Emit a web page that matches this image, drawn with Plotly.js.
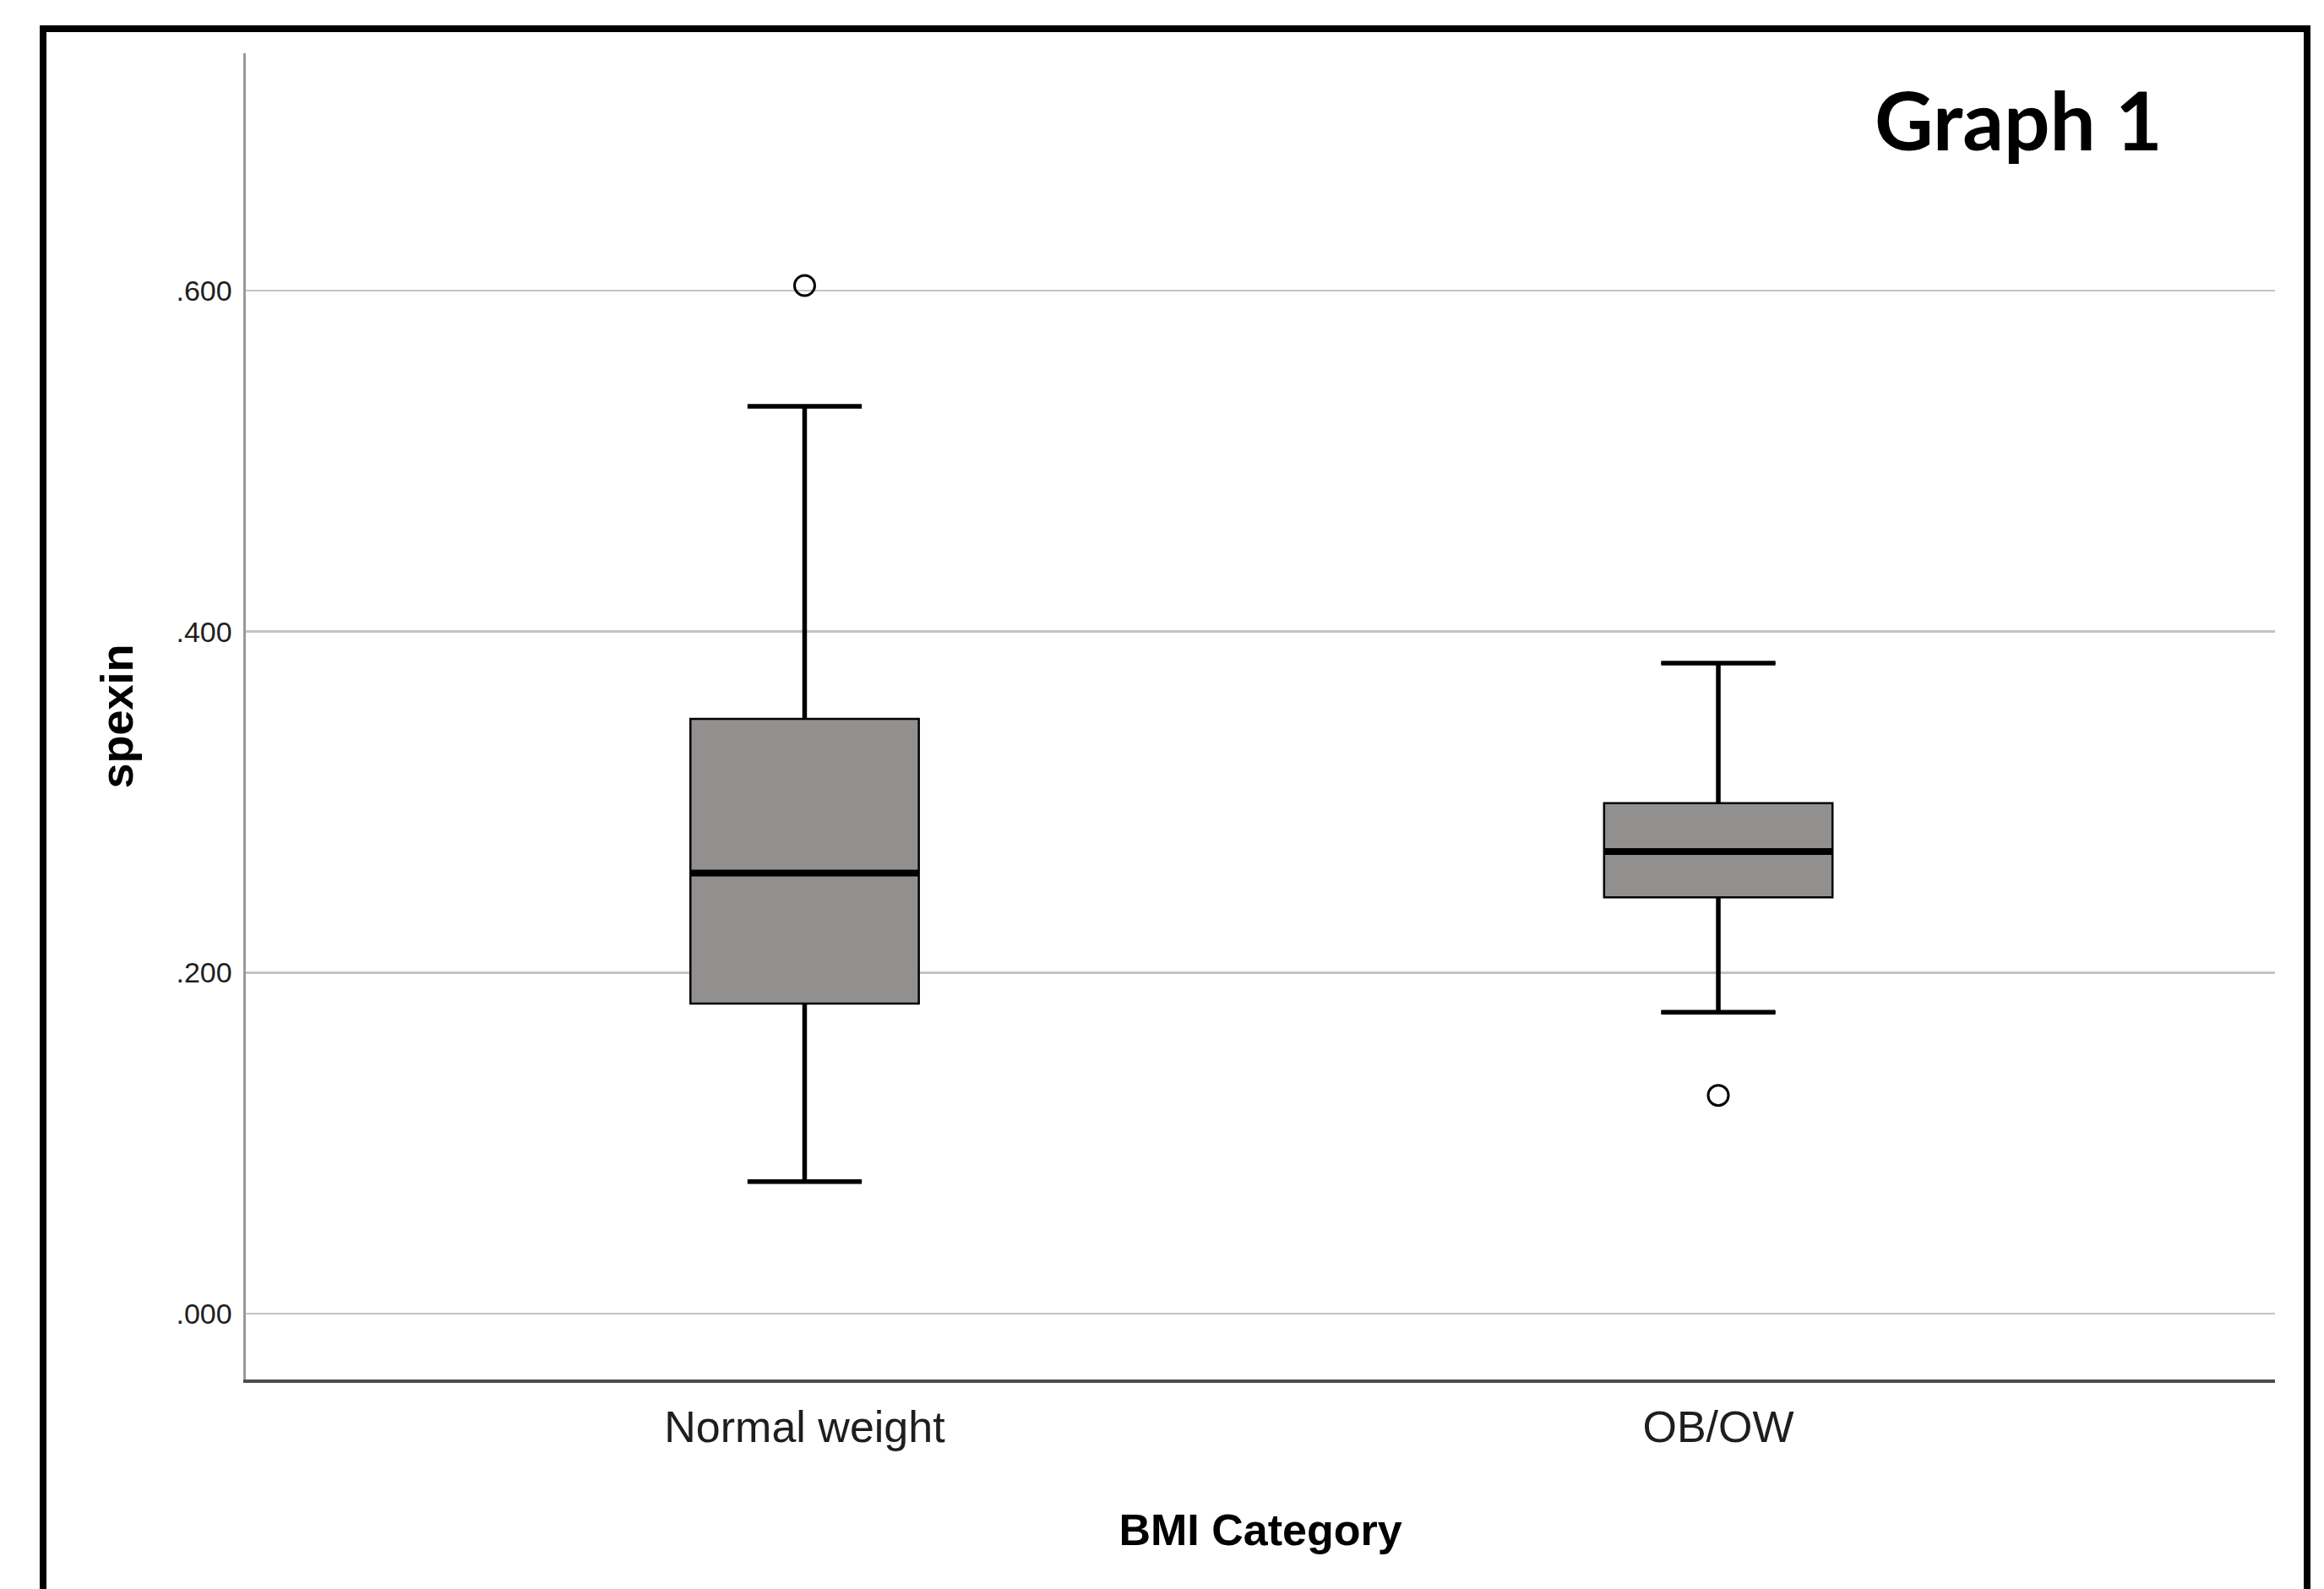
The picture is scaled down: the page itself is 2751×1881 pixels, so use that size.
<!DOCTYPE html>
<html>
<head>
<meta charset="utf-8">
<script src="https://cdn.plot.ly/plotly-3.0.1.min.js"></script>
<style>
  html, body { margin: 0; padding: 0; background: #ffffff; }
  #chart { width: 2751px; height: 1881px; }
</style>
</head>
<body>
<div id="chart"></div>
<script>
// ---- data ----
const categories = ['Normal weight', 'OB/OW'];
const lowerWhisker = [0.0774, 0.1767];
const q1 = [0.1818, 0.2442];
const median = [0.2584, 0.2710];
const q3 = [0.3488, 0.2994];
const upperWhisker = [0.5321, 0.3815];
const outliers = [[0.6030], [0.1280]];
const yTickValues = [0, 0.2, 0.4, 0.6];
const yTickLabels = ['.000', '.200', '.400', '.600'];
const xAxisTitle = 'BMI Category';
const yAxisTitle = 'spexin';
const chartLabel = 'Graph 1';

// ---- layout constants ----
const W = 2751, H = 1881;
const M = { l: 291, r: 58, t: 63, b: 248 };
const plotW = W - M.l - M.r, plotH = H - M.t - M.b;
const px2x = p => (p - M.l) / plotW;
const px2y = p => (H - M.b - p) / plotH;

const boxWidth = 0.25;
const capFrac = 0.5;
const sans = '"Liberation Sans", Arial, sans-serif';
const boxFill = 'rgb(146,143,143)';

const pos = categories.map((c, i) => i);

const traces = [];

// box bodies (precomputed statistics)
traces.push({
  type: 'box',
  x: pos,
  q1: q1,
  median: median,
  q3: q3,
  lowerfence: lowerWhisker,
  upperfence: upperWhisker,
  width: boxWidth,
  whiskerwidth: capFrac,
  fillcolor: boxFill,
  line: { color: '#000000', width: 2.5 },
  boxpoints: false,
  hoverinfo: 'skip'
});

// thicker whiskers and caps
const wx = [], wy = [];
pos.forEach((p, i) => {
  const h = boxWidth * capFrac / 2;
  wx.push(p, p, null, p - h, p + h, null, p, p, null, p - h, p + h, null);
  wy.push(q3[i], upperWhisker[i], null, upperWhisker[i], upperWhisker[i], null,
          q1[i], lowerWhisker[i], null, lowerWhisker[i], lowerWhisker[i], null);
});
traces.push({
  type: 'scatter', mode: 'lines', x: wx, y: wy,
  line: { color: '#000000', width: 5.5 }, hoverinfo: 'skip'
});

// thick median lines
const mx = [], my = [];
pos.forEach((p, i) => {
  const h = boxWidth / 2;
  mx.push(p - h, p + h, null);
  my.push(median[i], median[i], null);
});
traces.push({
  type: 'scatter', mode: 'lines', x: mx, y: my,
  line: { color: '#000000', width: 8 }, hoverinfo: 'skip'
});

// outliers
const ox = [], oy = [];
outliers.forEach((arr, i) => arr.forEach(v => { ox.push(pos[i]); oy.push(v); }));
traces.push({
  type: 'scatter', mode: 'markers', x: ox, y: oy,
  marker: { symbol: 'circle-open', size: 24, color: '#000000', line: { width: 3, color: '#000000' } },
  hoverinfo: 'skip'
});

const layout = {
  width: W, height: H,
  margin: { l: M.l, r: M.r, t: M.t, b: M.b, pad: 0 },
  paper_bgcolor: '#ffffff',
  plot_bgcolor: '#ffffff',
  showlegend: false,
  xaxis: {
    range: [-0.6116, 1.6093],
    tickvals: pos,
    ticktext: categories,
    showgrid: false, zeroline: false,
    showline: true, linecolor: '#4d4d4d', linewidth: 4,
    ticks: '',
    ticklabelstandoff: 8,
    tickfont: { family: sans, size: 52, color: '#1e1e1e' },
    title: { text: xAxisTitle, standoff: 76, font: { family: sans, size: 52, color: '#000000', weight: 'bold' } },
    automargin: false
  },
  yaxis: {
    range: [-0.03865, 0.73924],
    tickvals: yTickValues,
    ticktext: yTickLabels,
    showgrid: true, gridcolor: '#c4c4c4', gridwidth: 2.5,
    zeroline: false,
    showline: true, linecolor: '#999999', linewidth: 3.5,
    ticks: '',
    ticklabelstandoff: 6,
    tickfont: { family: sans, size: 34, color: '#1e1e1e' },
    title: { text: yAxisTitle, standoff: 34, font: { family: sans, size: 54, color: '#000000', weight: 'bold' } },
    automargin: false
  },
  shapes: [{
    type: 'rect', xref: 'paper', yref: 'paper',
    x0: px2x(51), x1: px2x(2731), y0: px2y(1950), y1: px2y(34),
    line: { color: '#000000', width: 8 }, fillcolor: 'rgba(0,0,0,0)', layer: 'above'
  }],
  annotations: [{
    text: chartLabel, xref: 'paper', yref: 'paper',
    x: px2x(2217), y: px2y(140), xanchor: 'left', yanchor: 'middle',
    showarrow: false,
    font: { family: 'Lato, "Open Sans", sans-serif', size: 96, color: '#000000', weight: 'bold' }
  }]
};

Plotly.newPlot('chart', traces, layout, { displayModeBar: false, staticPlot: true });
</script>
</body>
</html>
